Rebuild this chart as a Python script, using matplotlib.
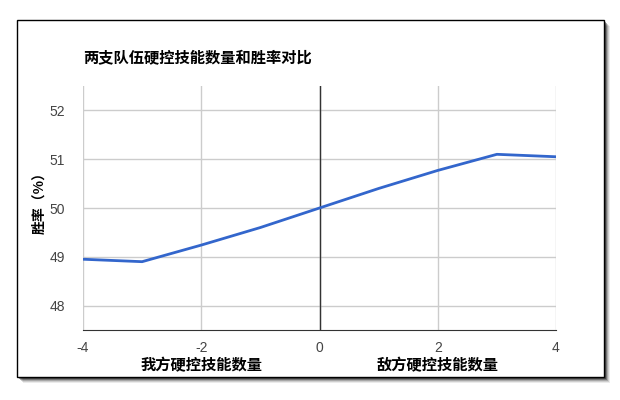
import matplotlib
matplotlib.use('Agg')
import matplotlib.pyplot as plt
from matplotlib.patches import Rectangle

plt.rcParams['font.family'] = ['Noto Sans CJK SC', 'DejaVu Sans']
plt.rcParams['axes.unicode_minus'] = False

# 硬控技能数量差 (负数 = 我方, 正数 = 敌方)
diff = [-4, -3, -2, -1, 0, 1, 2, 3, 4]
win_rate = [48.95, 48.9, 49.24, 49.6, 50.0, 50.4, 50.77, 51.1, 51.05]
x_ticks = [-4, -2, 0, 2, 4]
y_ticks = [48, 49, 50, 51, 52]

fig = plt.figure(figsize=(6.2, 4.0), dpi=100)
fig.patch.set_facecolor('white')

# 外框 + 阴影
W, H = 620, 400
fx, fy, fw, fh = 17 / W, 23 / H, 587 / W, 357 / H
for i, a in enumerate([0.08, 0.12, 0.18, 0.3, 0.4]):
    off = (6 - i) / W, (6 - i) / H
    fig.patches.append(Rectangle((fx + off[0], fy - off[1]), fw, fh,
                                 transform=fig.transFigure, facecolor='black',
                                 alpha=a, edgecolor='none', zorder=0))
fig.patches.append(Rectangle((fx, fy), fw, fh, transform=fig.transFigure,
                             facecolor='white', edgecolor='black', linewidth=1, zorder=1))

ax = fig.add_axes([83 / W, 70 / H, 473 / W, 244 / H])
ax.set_zorder(2)
ax.patch.set_alpha(0)
ax.plot(diff, win_rate, color='#3366cc', linewidth=2, zorder=3)

ax.set_xlim(-4, 4)
ax.set_ylim(47.5, 52.5)
ax.set_xticks(x_ticks)
ax.set_yticks(y_ticks)
ax.grid(color='#cccccc', linewidth=1)
ax.axvline(0, color='#333333', linewidth=1, zorder=2)
for s in ['top', 'right', 'left']:
    ax.spines[s].set_visible(False)
ax.spines['bottom'].set_color('#333333')
ax.tick_params(length=0, labelsize=10, labelcolor='#444444', pad=8)
for lab in ax.get_xticklabels() + ax.get_yticklabels():
    lab.set_family(['Liberation Sans', 'DejaVu Sans'])
ax.tick_params(axis='y', pad=13)

fig.text(83 / W, 1 - 58 / H, '两支队伍硬控技能数量和胜率对比', fontsize=11,
         fontweight='bold', ha='left', va='center')
fig.text(39 / W, 1 - 200 / H, '胜率（%）', fontsize=10, fontweight='bold',
         rotation=90, ha='center', va='center')
ax.text(-2, -0.145, '我方硬控技能数量', transform=ax.get_xaxis_transform(),
        fontsize=11, fontweight='bold', ha='center', va='center')
ax.text(2, -0.145, '敌方硬控技能数量', transform=ax.get_xaxis_transform(),
        fontsize=11, fontweight='bold', ha='center', va='center')

fig.savefig('out.png', dpi=100)
